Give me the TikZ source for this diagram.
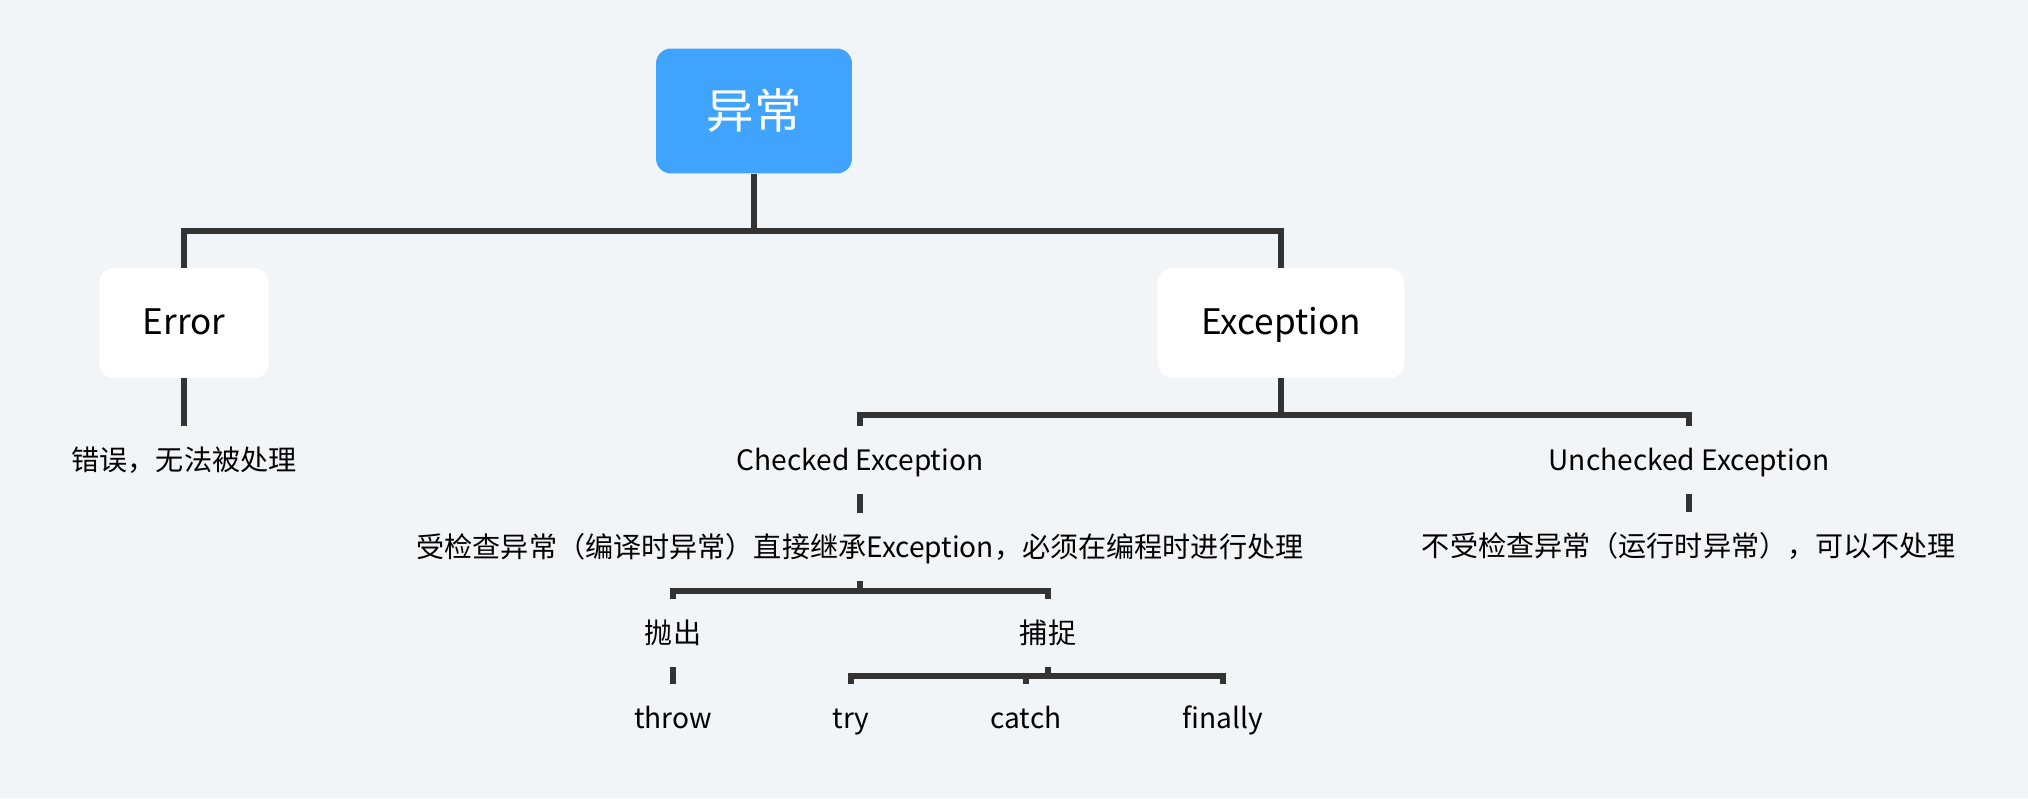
\documentclass[tikz,border=0pt]{standalone}
\usepackage{fontspec}
\setmainfont{Noto Sans CJK SC}
\usepackage{xcolor}
\definecolor{bg}{HTML}{F2F5F8}
\definecolor{rootblue}{HTML}{40A4FF}
\definecolor{linegray}{HTML}{333333}

\begin{document}
\begin{tikzpicture}[x=0.02cm,y=-0.02cm,
    box/.style={fill=white,rounded corners=0.3cm,minimum height=2.2cm,inner xsep=0.87cm,text height=1.55em,text depth=0.2em,font=\fontsize{20}{24}\selectfont},
    txt/.style={minimum height=1.36cm,inner sep=0pt,text height=1.3em,text depth=0.15em,font=\fontsize{16}{19}\selectfont},
    link/.style={linegray,line width=3.1pt}]
    \fill[bg] (0,0) rectangle (2028,798);
    \useasboundingbox (0,0) rectangle (2028,798);
    % top levels
    \node[fill=rootblue,text=white,rounded corners=0.3cm,minimum width=3.92cm,minimum height=2.5cm,font=\fontsize{27}{32}\selectfont] (root) at (754,111) {异常};
    \node[box] (err) at (184,323) {Error};
    \node[box] (exc) at (1281,323) {Exception};
    \node[txt] (errdesc) at (184,460) {错误，无法被处理};
    \node[txt] (chk) at (860,460) {Checked Exception};
    \node[txt] (unchk) at (1689,460) {Unchecked Exception};
    \node[txt] (chkdesc) at (860,547) {受检查异常（编译时异常）直接继承Exception，必须在编程时进行处理};
    \node[txt] (unchkdesc) at (1689,546) {不受检查异常（运行时异常），可以不处理};
    % handling
    \node[txt] (throwg) at (673,633) {抛出};
    \node[txt] (catchg) at (1048,633) {捕捉};
    \node[txt] (throw) at (673,718) {throw};
    \node[txt] (try) at (851,718) {try};
    \node[txt] (catch) at (1026,718) {catch};
    \node[txt] (finally) at (1223,718) {finally};
    \coordinate (bar1) at (754,231);
    \coordinate (bar2) at (1281,415);
    \coordinate (bar3) at (860,591);
    \coordinate (bar4) at (1048,676);
    % links
    \draw[link] (root.south) -- (bar1);
    \draw[link] (err.north) |- (bar1) -| (exc.north);
    \draw[link] (err.south) -- (errdesc.north);
    \draw[link] (exc.south) -- (bar2);
    \draw[link] (chk.north) |- (bar2) -| (unchk.north);
    \draw[link] (chk.south) -- (chkdesc.north);
    \draw[link] (unchk.south) -- (unchkdesc.north);
    \draw[link] (chkdesc.south) -- (bar3);
    \draw[link] (throwg.north) |- (bar3) -| (catchg.north);
    \draw[link] (throwg.south) -- (throw.north);
    \draw[link] (catchg.south) -- (bar4);
    \draw[link] (try.north) |- (bar4) -| (finally.north);
    \draw[link] (catch.north) -- (catch.north |- bar4);
\end{tikzpicture}
\end{document}
